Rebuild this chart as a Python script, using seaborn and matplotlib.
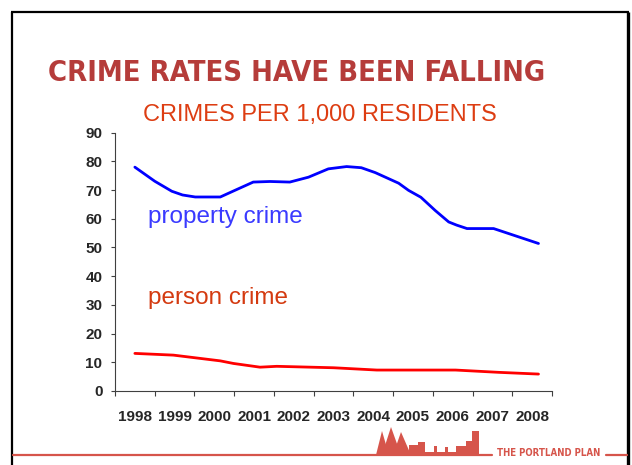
import numpy as np
import matplotlib
matplotlib.use("Agg")
import matplotlib.pyplot as plt
import matplotlib.font_manager as fm
from matplotlib.patches import Polygon, Rectangle
from matplotlib.lines import Line2D
import seaborn as sns
import pandas as pd

# data (crimes per 1,000 residents)
year_labels = ["1998", "1999", "2000", "2001", "2002", "2003",
               "2004", "2005", "2006", "2007", "2008"]

property_years = [1998.0, 1998.5, 1998.93, 1999.2, 1999.52, 2000.15, 2000.5,
                  2000.98, 2001.4, 2001.9, 2002.37, 2002.87, 2003.33, 2003.7,
                  2004.05, 2004.64, 2004.89, 2005.2, 2005.56, 2005.9, 2006.1,
                  2006.36, 2007.03, 2008.16]
property_rate = [78.0, 73.1, 69.6, 68.3, 67.6, 67.6, 69.8,
                 72.8, 73.0, 72.8, 74.5, 77.4, 78.2, 77.8,
                 76.1, 72.4, 69.9, 67.5, 62.9, 58.9, 57.8,
                 56.6, 56.6, 51.4]

person_years = [1998.0, 1998.97, 2000.15, 2000.48, 2001.15, 2001.57,
                2003.0, 2004.09, 2006.07, 2007.16, 2008.16]
person_rate = [13.1, 12.5, 10.5, 9.6, 8.3, 8.6, 8.1, 7.3, 7.3, 6.5, 5.9]

W, H = 632, 465


def condensed_bold():
    # look for a narrow / condensed bold face among the installed fonts
    for key in ["LiberationSansNarrow-Bold", "DejaVuSansCondensed-Bold"]:
        for f in fm.fontManager.ttflist:
            if key.lower() in f.fname.lower().replace(" ", ""):
                return fm.FontProperties(fname=f.fname)
    return fm.FontProperties(family="Liberation Sans", weight="bold")


def px(x, y):
    return x / W, 1 - y / H


def fit_width(fig, txt, target):
    # scale the font size so the text spans the measured width
    for _ in range(3):
        r = fig.canvas.get_renderer()
        w = txt.get_window_extent(r).width
        txt.set_fontsize(txt.get_fontsize() * target / w)


sns.set_theme(style="white")
plt.rcParams["font.family"] = ["Liberation Sans", "DejaVu Sans"]

fig = plt.figure(figsize=(W / 100, H / 100), dpi=100)
fig.patch.set_facecolor("white")

ax = fig.add_axes([115 / W, 1 - 391 / H, (552 - 115) / W, (391 - 132.7) / H])

df_prop = pd.DataFrame({"year": property_years, "rate": property_rate})
df_pers = pd.DataFrame({"year": person_years, "rate": person_rate})
sns.lineplot(data=df_prop, x="year", y="rate", color="#0000ff", lw=2.0, ax=ax, estimator=None)
sns.lineplot(data=df_pers, x="year", y="rate", color="#ff0000", lw=2.0, ax=ax, estimator=None)

ax.set_xlim(1997.5, 2008.5)
ax.set_ylim(0, 90)
ax.set_xlabel("")
ax.set_ylabel("")
ax.set_facecolor("white")

# y axis
ax.set_yticks(np.arange(0, 91, 10))
ax.tick_params(axis="y", direction="out", length=3, width=0.8, color="#404040", pad=6,
               labelsize=11, left=True)
for t in ax.get_yticklabels():
    t.set_fontweight("bold")

# x axis: ticks at bin edges, labels centered in bins
years_num = [int(y) for y in year_labels]
ax.set_xticks(np.arange(1997.5, 2008.6, 1.0))
ax.set_xticklabels([])
ax.set_xticks(years_num, minor=True)
ax.set_xticklabels(year_labels, minor=True, fontweight="bold", fontsize=11)
ax.tick_params(axis="x", which="major", direction="out", length=3.5, width=0.8,
               color="#404040", bottom=True)
ax.tick_params(axis="x", which="minor", length=0, pad=14, bottom=True)

for side in ["top", "right"]:
    ax.spines[side].set_visible(False)
for side in ["left", "bottom"]:
    ax.spines[side].set_color("#404040")
    ax.spines[side].set_linewidth(0.8)

ax.text(1998.34, 58.4, "property crime", color="#3a3aff", fontsize=17.5, va="baseline")
ax.text(1998.34, 30.2, "person crime", color="#d43a10", fontsize=17.5, va="baseline")

cond = condensed_bold()

# titles
x0, y0 = px(48, 81)
title = fig.text(x0, y0, "CRIME RATES HAVE BEEN FALLING", fontproperties=cond,
                 color="#b53c3a", va="baseline", ha="left")
title.set_fontsize(24)
x0, y0 = px(320, 121)
fig.text(x0, y0, "CRIMES PER 1,000 RESIDENTS", fontsize=17, color="#dd3d12",
         va="baseline", ha="center")

# slide frame
frame = dict(color="black", transform=fig.transFigure, solid_capstyle="butt")
fig.add_artist(Line2D([12 / W, 12 / W], [0, 1 - 12 / H], lw=1.6, **frame))
fig.add_artist(Line2D([11 / W, 629 / W], [1 - 12 / H, 1 - 12 / H], lw=1.6, **frame))
fig.add_artist(Line2D([628 / W, 628 / W], [0, 1 - 12 / H], lw=2.4, **frame))

# footer: red rule, skyline and plan name
red = "#d6554b"
rule = dict(color=red, lw=1.6, transform=fig.transFigure)
fig.add_artist(Line2D([px(13, 0)[0], px(492, 0)[0]], [px(0, 455)[1]] * 2, **rule))
fig.add_artist(Line2D([px(606, 0)[0], px(627, 0)[0]], [px(0, 455)[1]] * 2, **rule))

trees = [(382, 431, 376, 389), (391, 427, 382, 401), (401, 432, 393, 411)]
for cx, top, l, r in trees:
    pts = [px(l, 455), px(cx, top), px(r, 455)]
    fig.add_artist(Polygon(pts, closed=True, color=red, transform=fig.transFigure, lw=0))
blocks = [(409, 445, 418), (418, 442, 425), (425, 452, 457), (434, 446, 437),
          (445, 447, 448), (456, 446, 466), (466, 441, 472), (472, 431, 479)]
for l, top, r in blocks:
    xl, yt = px(l, top)
    xr, yb = px(r, 455)
    fig.add_artist(Rectangle((xl, yb), xr - xl, yt - yb, color=red, lw=0,
                             transform=fig.transFigure))

x0, y0 = px(497, 456)
plan = fig.text(x0, y0, "THE PORTLAND PLAN", fontproperties=cond,
                color=red, va="baseline", ha="left")
plan.set_fontsize(8)

fit_width(fig, title, 497)
fit_width(fig, plan, 103)

fig.savefig("out.png", dpi=100, facecolor="white")
